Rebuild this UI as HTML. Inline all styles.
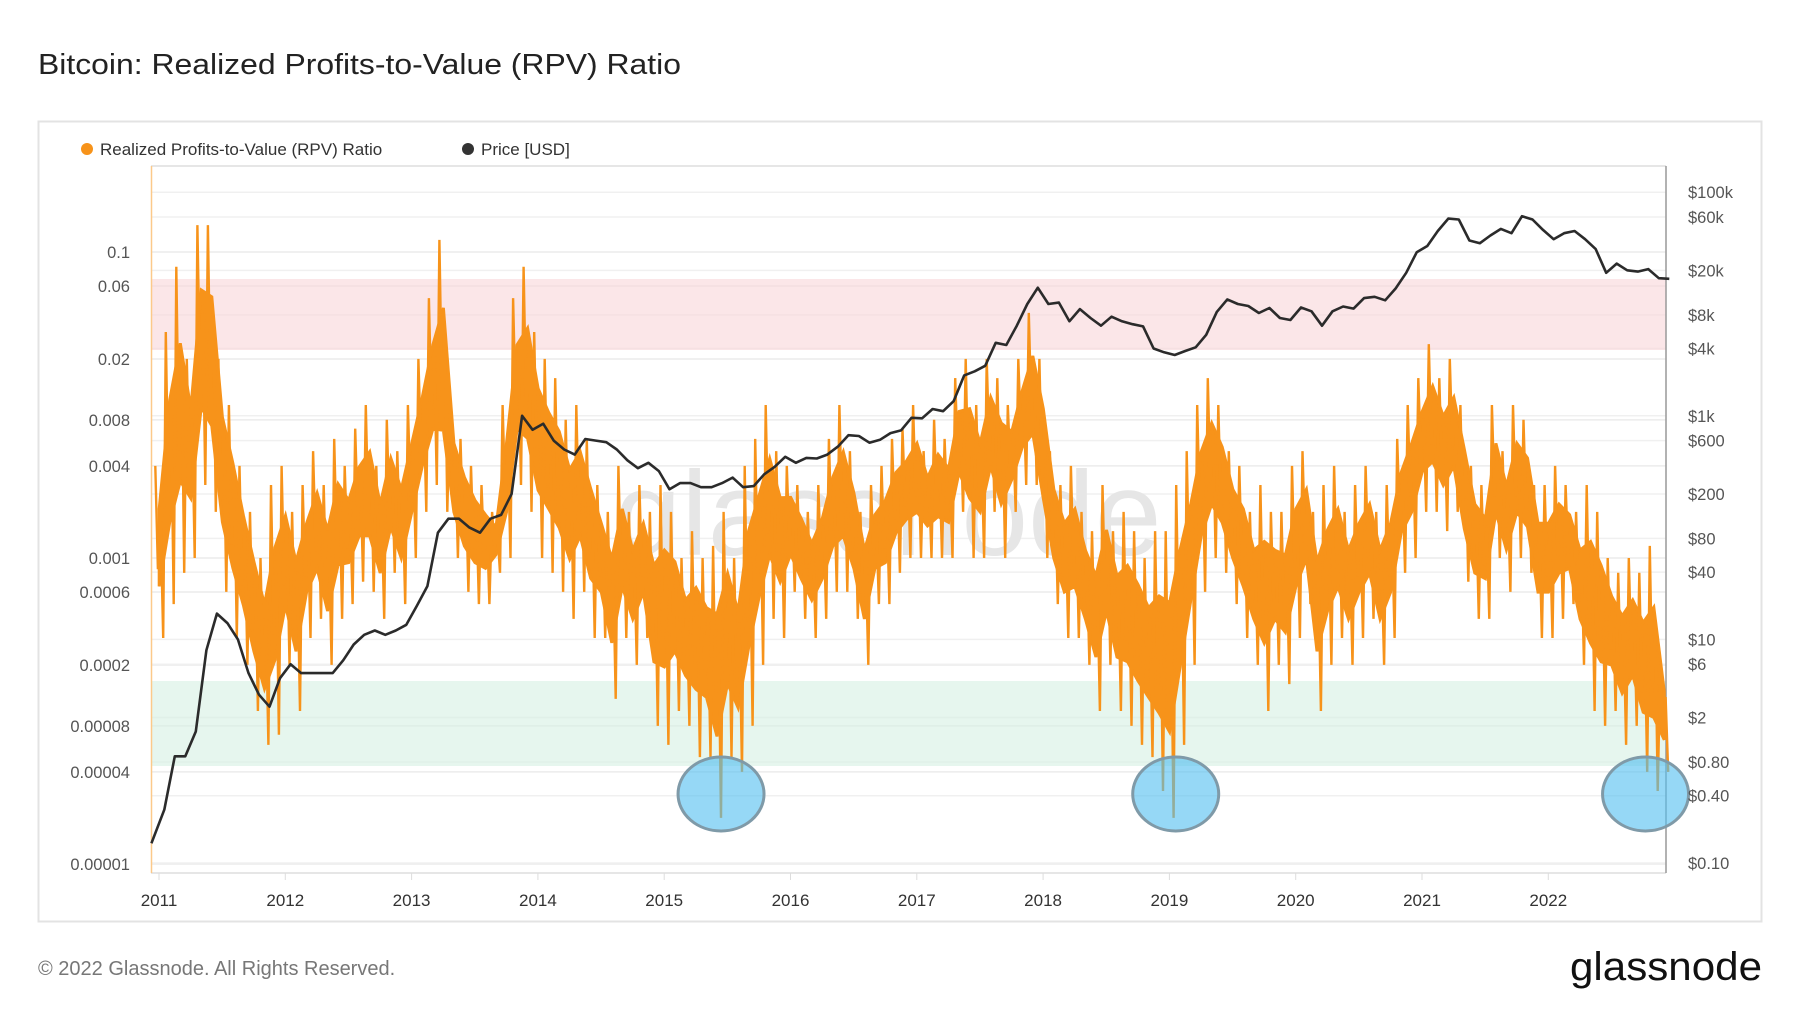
<!DOCTYPE html>
<html><head><meta charset="utf-8"><style>
html,body{margin:0;padding:0;background:#fff;}
svg{display:block;font-family:"Liberation Sans",sans-serif;}
</style></head><body>
<svg width="1800" height="1013" viewBox="0 0 1800 1013" xmlns="http://www.w3.org/2000/svg">
<text x="38" y="74" font-size="29" fill="#222" textLength="643" lengthAdjust="spacingAndGlyphs">Bitcoin: Realized Profits-to-Value (RPV) Ratio</text>
<rect x="38.5" y="121.5" width="1723" height="800" fill="#fff" stroke="#e3e3e3" stroke-width="2"/>
<g>
<g><circle cx="87" cy="149" r="6" fill="#f7931a"/><text x="100" y="155" font-size="17" fill="#333">Realized Profits-to-Value (RPV) Ratio</text></g>
<g><circle cx="468" cy="149" r="6" fill="#333"/><text x="481" y="155" font-size="17" fill="#333">Price [USD]</text></g>
</g>
<g id="grid"></g>
<rect x="151" y="279" width="1515" height="71" fill="#f9d6d8" opacity="0.6"/>
<rect x="151" y="681" width="1515" height="85" fill="#d5f0e2" opacity="0.6"/>
<text x="888" y="555" font-size="120" fill="#e6e6e6" text-anchor="middle">glassnode</text>
<line x1="151" y1="166" x2="1666" y2="166" stroke="#e6e6e6" stroke-width="2"/>
<line x1="151" y1="873" x2="1666" y2="873" stroke="#e6e6e6" stroke-width="2"/>
<line x1="151.5" y1="166" x2="151.5" y2="873" stroke="#fcc98a" stroke-width="1.5"/>
<line x1="1666" y1="166" x2="1666" y2="873" stroke="#999" stroke-width="1.5"/>
<g id="rpvg"></g>
<g id="priceg"></g>
<g id="circles"></g>
<g id="ylabels"></g>
<g id="rlabels"></g>
<g id="xlabels"></g>
<text x="38" y="975" font-size="20" fill="#777">© 2022 Glassnode. All Rights Reserved.</text>
<text x="1570" y="980" font-size="40" fill="#111" textLength="192" lengthAdjust="spacingAndGlyphs">glassnode</text>
</svg>
<script>
const years = [2011,2012,2013,2014,2015,2016,2017,2018,2019,2020,2021,2022];
const leftTicks = [0.1,0.06,0.02,0.008,0.004,0.001,0.0006,0.0002,0.00008,0.00004,0.00001];
const leftTickLabels = ["0.1","0.06","0.02","0.008","0.004","0.001","0.0006","0.0002","0.00008","0.00004","0.00001"];
const rightTicks = [100000,60000,20000,8000,4000,1000,600,200,80,40,10,6,2,0.8,0.4,0.1];
const rightTickLabels = ["$100k","$60k","$20k","$8k","$4k","$1k","$600","$200","$80","$40","$10","$6","$2","$0.80","$0.40","$0.10"];
// monthly [high, low] RPV per year Jan..Dec
const rpv2011 = [0.004,0.0003,0.03,0.0005,0.08,0.0008,0.02,0.001,0.15,0.003,0.15,0.002,0.02,0.0006,0.01,0.0003,0.004,0.0002,0.002,0.0001,0.001,0.00006,0.003,0.00007];
const rpv2012 = [0.004,0.0002,0.002,0.0001,0.003,0.0003,0.005,0.0004,0.003,0.0002,0.006,0.0004,0.004,0.0005,0.007,0.0007,0.01,0.0006,0.004,0.0004,0.008,0.0008,0.005,0.0005];
const rpv2013 = [0.01,0.001,0.02,0.002,0.05,0.003,0.12,0.002,0.01,0.001,0.006,0.0006,0.004,0.0005,0.003,0.0005,0.002,0.0008,0.01,0.001,0.05,0.003,0.08,0.002];
const rpv2014 = [0.03,0.001,0.02,0.0008,0.015,0.0006,0.008,0.0004,0.01,0.0006,0.006,0.0003,0.003,0.0003,0.002,0.00012,0.004,0.0003,0.002,0.0002,0.003,0.0003,0.002,0.00008];
const rpv2015 = [0.003,0.00006,0.002,0.0001,0.001,0.00008,0.0015,0.00005,0.001,0.00005,0.0012,0.00002,0.002,0.00005,0.001,0.00004,0.004,0.00008,0.006,0.0002,0.01,0.0004,0.005,0.0003];
const rpv2016 = [0.004,0.0006,0.003,0.0004,0.002,0.0003,0.003,0.0004,0.006,0.0006,0.01,0.0006,0.005,0.0004,0.002,0.0002,0.003,0.0005,0.004,0.0005,0.006,0.0008,0.007,0.001];
const rpv2017 = [0.01,0.001,0.005,0.001,0.008,0.001,0.006,0.001,0.015,0.002,0.02,0.001,0.01,0.001,0.02,0.002,0.015,0.001,0.01,0.002,0.02,0.003,0.04,0.003];
const rpv2018 = [0.02,0.001,0.005,0.0005,0.003,0.0003,0.004,0.0003,0.002,0.0002,0.0015,0.0001,0.003,0.0002,0.0015,0.0001,0.002,0.00008,0.0015,0.00006,0.001,0.00005,0.0015,0.00003];
const rpv2019 = [0.0015,0.00002,0.003,0.00006,0.005,0.0002,0.01,0.0006,0.015,0.001,0.01,0.0008,0.005,0.0005,0.004,0.0003,0.002,0.0002,0.003,0.0001,0.002,0.0002,0.002,0.00015];
const rpv2020 = [0.004,0.0003,0.005,0.0005,0.002,0.0001,0.003,0.0002,0.004,0.0003,0.002,0.0002,0.003,0.0003,0.004,0.0004,0.002,0.0002,0.003,0.0003,0.006,0.0008,0.01,0.001];
const rpv2021 = [0.015,0.002,0.025,0.002,0.015,0.0015,0.02,0.002,0.01,0.0007,0.004,0.0004,0.003,0.0004,0.01,0.001,0.005,0.0006,0.01,0.001,0.008,0.0008,0.003,0.0003];
const rpv2022 = [0.003,0.0003,0.004,0.0004,0.003,0.0005,0.002,0.0002,0.003,0.0001,0.002,0.00008,0.001,0.0001,0.0008,0.00006,0.001,0.00008,0.0008,0.00004,0.0012,0.00003,0.0002,0.00004];
// monthly BTC price USD
const price2011 = [0.3,0.9,0.9,1.5,8,17,14,10,5,3.2,2.5,4.5];
const price2012 = [6,5,5,5,5,6.5,9,11,12,11,12,13.5];
const price2013 = [20,30,90,120,120,100,90,120,130,200,1000,750];
const price2014 = [850,600,500,450,620,600,580,500,400,340,380,320];
const price2015 = [220,250,250,230,230,250,280,230,235,300,350,430];
const price2016 = [380,420,415,450,530,670,660,575,610,700,740,960];
const price2017 = [950,1150,1100,1350,2300,2500,2800,4500,4300,6400,10000,14000];
const price2018 = [10000,10300,7000,9000,7500,6400,7700,7000,6600,6300,4000,3700];
const price2019 = [3500,3800,4100,5300,8500,11000,10000,9600,8300,9200,7500,7200];
const price2020 = [9300,8600,6400,8600,9500,9100,11300,11600,10800,13800,19000,29000];
const price2021 = [33000,45000,58000,57000,37000,35000,41000,47000,43000,61000,57000,46000];
const price2022 = [38000,43000,45000,38000,31000,19000,23000,20000,19500,20500,17000,16800];
const circleDates = [2015.45, 2019.05, 2022.77];

const NS="http://www.w3.org/2000/svg";
function xs(t){return 159 + (t-2011)*126.3;}
function yl(v){return 864 - 153*(Math.log10(v)+5);}
function yr(v){return 863 - 111.8*Math.log10(v/0.1);}
function mk(tag,attrs,parent){const e=document.createElementNS(NS,tag);for(const k in attrs)e.setAttribute(k,attrs[k]);parent.appendChild(e);return e;}

const grid=document.getElementById('grid');
leftTicks.forEach(v=>{const l=mk('line',{x1:151,x2:1666,y1:yl(v),y2:yl(v),stroke:'#ececec','stroke-width':1.5},grid);

});
rightTicks.forEach(v=>{const l=mk('line',{x1:151,x2:1666,y1:yr(v),y2:yr(v),stroke:'#f0f0f0','stroke-width':1.5},grid);

});

const yl_g=document.getElementById('ylabels');
leftTicks.forEach((v,i)=>{const t=mk('text',{x:130,y:yl(v)+6,'font-size':16.5,fill:'#555','text-anchor':'end'},yl_g);t.textContent=leftTickLabels[i];

});
const yr_g=document.getElementById('rlabels');
rightTicks.forEach((v,i)=>{const t=mk('text',{x:1688,y:yr(v)+6,'font-size':16.5,fill:'#555'},yr_g);t.textContent=rightTickLabels[i];

});
const xg=document.getElementById('xlabels');
years.forEach(y=>{const x=xs(y);mk('line',{x1:x,x2:x,y1:873,y2:880,stroke:'#ddd'},xg);
const t=mk('text',{x:x,y:906,'font-size':17,fill:'#333','text-anchor':'middle'},xg);t.textContent=y;

});

const rpvAll=[].concat(rpv2011,rpv2012,rpv2013,rpv2014,rpv2015,rpv2016,rpv2017,rpv2018,rpv2019,rpv2020,rpv2021,rpv2022);
const rg=document.getElementById('rpvg');
// dense core band between monthly highs and lows
const n=rpvAll.length/2;
let up='',lo='';
for(let m=0;m<n;m++){
  const hi=rpvAll[2*m], lw=rpvAll[2*m+1];
  const t=2011-0.04+(m+0.5)/12;
  const cu=Math.pow(hi,0.75)*Math.pow(lw,0.25), cl=Math.pow(hi,0.3)*Math.pow(lw,0.7);
  up+=(m?'L':'M')+xs(t).toFixed(1)+','+yl(cu).toFixed(1);
  lo='L'+xs(t).toFixed(1)+','+yl(cl).toFixed(1)+lo;
}
const core=mk('path',{d:up+lo+'Z',fill:'#f7931a',stroke:'#f7931a','stroke-width':3},rg);


let d='';
for(let m=0;m<n;m++){
  const hi=rpvAll[2*m], lw=rpvAll[2*m+1];
  const seq=[hi,Math.pow(hi,0.4)*Math.pow(lw,0.6),Math.pow(hi,0.7)*Math.pow(lw,0.3),lw];
  seq.forEach((v,k)=>{const t=2011-0.04+(m+(k+0.5)/4)/12;d+=(d?'L':'M')+xs(t).toFixed(1)+','+yl(v).toFixed(1);});
}
const rp=mk('path',{d:d,fill:'none',stroke:'#f7931a','stroke-width':2.4,'stroke-linejoin':'miter'},rg);



const priceAll=[].concat(price2011,price2012,price2013,price2014,price2015,price2016,price2017,price2018,price2019,price2020,price2021,price2022);
let pd='M'+xs(2010.94)+','+yr(0.15).toFixed(1);
priceAll.forEach((v,i)=>{const t=2011+(i+0.5)/12;pd+='L'+xs(t).toFixed(1)+','+yr(v).toFixed(1);});
const pp=mk('path',{d:pd,fill:'none',stroke:'#2b2b2b','stroke-width':2.6,'stroke-linejoin':'round'},document.getElementById('priceg'));



const cg=document.getElementById('circles');
circleDates.forEach(t=>{const c=mk('ellipse',{cx:xs(t),cy:yl(0.00002)-24,rx:43,ry:37,fill:'rgba(80,190,240,0.6)',stroke:'#7f9aa8','stroke-width':3},cg);

});
</script>
</body></html>
